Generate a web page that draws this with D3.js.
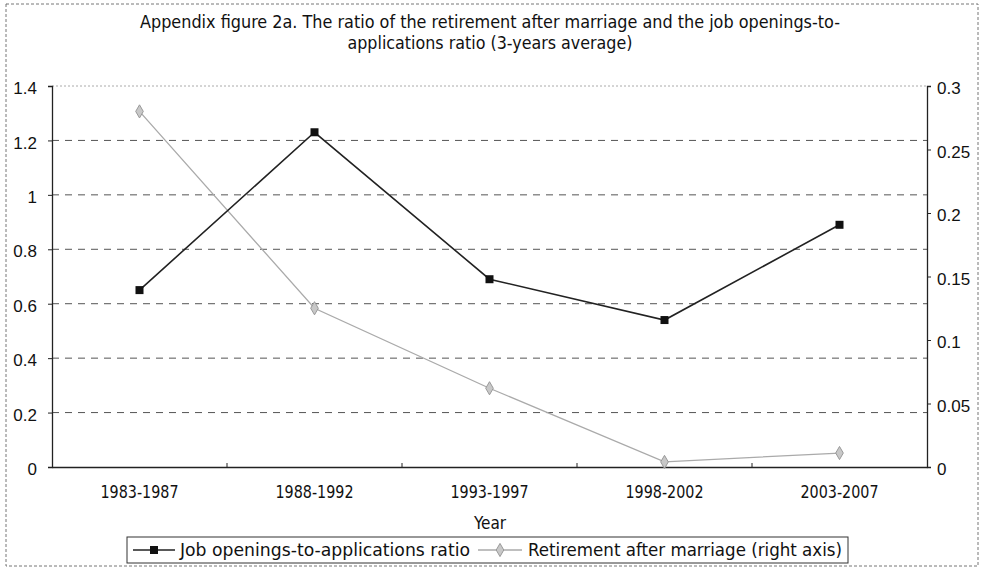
<!DOCTYPE html>
<html><head><meta charset="utf-8">
<script src="https://cdn.jsdelivr.net/npm/d3@7"></script>
<style>
body{margin:0;background:#fff;}
svg{display:block;}
</style></head>
<body>
<svg id="c" width="982" height="571"></svg>
<script>
const categories = ["1983-1987","1988-1992","1993-1997","1998-2002","2003-2007"];
const jobRatio = [0.65, 1.23, 0.69, 0.54, 0.89];
const retirement = [0.28, 0.125, 0.062, 0.004, 0.011];
const leftTicks = [0, 0.2, 0.4, 0.6, 0.8, 1, 1.2, 1.4];
const rightTicks = [0, 0.05, 0.1, 0.15, 0.2, 0.25, 0.3];
const titleLines = ["Appendix figure 2a. The ratio of the retirement after marriage and the job openings-to-", "applications ratio (3-years average)"];
const seriesNames = ["Job openings-to-applications ratio", "Retirement after marriage (right axis)"];

const svg = d3.select("#c");
const narrow = "'DejaVu Sans Condensed', 'Liberation Sans Narrow', sans-serif";
const reg = "'Liberation Sans', Arial, sans-serif";

const L = 52, R = 927, T = 86, B = 467;
const x = d3.scaleBand().domain(categories).range([L, R]);
const yL = d3.scaleLinear().domain([0, 1.4]).range([B, T]);
const yR = d3.scaleLinear().domain([0, 0.3]).range([B, T]);

// outer border
svg.append("rect").attr("x", 6).attr("y", 4).attr("width", 972).attr("height", 562)
  .attr("fill", "none").attr("stroke", "#777").attr("stroke-width", 1).attr("stroke-dasharray", "3,2");

// title
const titleWidths = [700, 285];
svg.append("g").selectAll("text").data(titleLines).join("text")
  .attr("x", 490).attr("y", (d, i) => 28 + i * 21)
  .attr("text-anchor", "middle").attr("font-family", narrow).attr("font-size", 17)
  .attr("textLength", (d, i) => titleWidths[i]).attr("lengthAdjust", "spacingAndGlyphs")
  .attr("fill", "#111").text(d => d);

// gridlines
svg.append("g").selectAll("line").data(leftTicks.filter(d => d > 0)).join("line")
  .attr("x1", L).attr("x2", R).attr("y1", d => yL(d)).attr("y2", d => yL(d))
  .attr("stroke", d => d === 1.4 ? "#aaa" : "#555").attr("stroke-width", 1)
  .attr("stroke-dasharray", d => d === 1.4 ? "2,2" : "7,6");

// axes
const gl = svg.append("g").attr("transform", `translate(${L},0)`)
  .call(d3.axisLeft(yL).tickValues(leftTicks).tickSize(4).tickFormat(d3.format("~g")));
const gr = svg.append("g").attr("transform", `translate(${R},0)`)
  .call(d3.axisRight(yR).tickValues(rightTicks).tickSize(4).tickFormat(d3.format("~g")));
const gx = svg.append("g").attr("transform", `translate(0,${B})`)
  .call(d3.axisBottom(x).tickSize(0).tickPadding(19));
[gl, gr, gx].forEach(g => {
  g.select(".domain").attr("stroke", "#222").attr("stroke-width", 1.3);
  g.selectAll(".tick line").attr("stroke", "#222");
});
gl.selectAll("text").attr("font-family", reg).attr("font-size", 17).attr("fill", "#111").attr("dx", "-8").attr("dy", "0.45em");
gr.selectAll("text").attr("font-family", reg).attr("font-size", 17).attr("fill", "#111").attr("dx", "3").attr("dy", "0.45em");
gx.selectAll("text").attr("font-family", narrow).attr("font-size", 17.5).attr("fill", "#111")
  .attr("textLength", 78).attr("lengthAdjust", "spacingAndGlyphs");
// category boundary ticks
svg.append("g").selectAll("line").data(categories.slice(1)).join("line")
  .attr("x1", d => x(d)).attr("x2", d => x(d)).attr("y1", B).attr("y2", B - 4)
  .attr("stroke", "#222");

// axis title
svg.append("text").attr("x", 490).attr("y", 529).attr("text-anchor", "middle")
  .attr("font-family", narrow).attr("font-size", 17).attr("fill", "#111").text("Year");

const cx = d => x(d) + x.bandwidth() / 2;

// retirement series
const retData = categories.map((c, i) => [c, retirement[i]]);
svg.append("path").datum(retData)
  .attr("d", d3.line().x(d => cx(d[0])).y(d => yR(d[1])))
  .attr("fill", "none").attr("stroke", "#aaa").attr("stroke-width", 1.3);
svg.append("g").selectAll("path").data(retData).join("path")
  .attr("d", d3.symbol(d3.symbolDiamond, 50))
  .attr("transform", d => `translate(${cx(d[0])},${yR(d[1])})`)
  .attr("fill", "#c8c8c8").attr("stroke", "#999");

// job series
const jobData = categories.map((c, i) => [c, jobRatio[i]]);
svg.append("path").datum(jobData)
  .attr("d", d3.line().x(d => cx(d[0])).y(d => yL(d[1])))
  .attr("fill", "none").attr("stroke", "#222").attr("stroke-width", 1.6);
svg.append("g").selectAll("rect").data(jobData).join("rect")
  .attr("x", d => cx(d[0]) - 4).attr("y", d => yL(d[1]) - 4)
  .attr("width", 8).attr("height", 8).attr("fill", "#111");

// legend
const lg = svg.append("g");
lg.append("rect").attr("x", 127).attr("y", 537).attr("width", 721).attr("height", 26)
  .attr("fill", "#fff").attr("stroke", "#333").attr("stroke-width", 1);
lg.append("line").attr("x1", 133).attr("x2", 175).attr("y1", 550).attr("y2", 550)
  .attr("stroke", "#222").attr("stroke-width", 1.6);
lg.append("rect").attr("x", 150).attr("y", 546).attr("width", 8).attr("height", 8).attr("fill", "#111");
lg.append("text").attr("x", 180).attr("y", 556).attr("font-family", narrow).attr("font-size", 17)
  .attr("textLength", 290).attr("lengthAdjust", "spacingAndGlyphs")
  .attr("fill", "#111").text(seriesNames[0]);
lg.append("line").attr("x1", 478).attr("x2", 522).attr("y1", 550).attr("y2", 550)
  .attr("stroke", "#aaa").attr("stroke-width", 1.3);
lg.append("path").attr("d", d3.symbol(d3.symbolDiamond, 50)).attr("transform", "translate(500,550)")
  .attr("fill", "#c8c8c8").attr("stroke", "#999");
lg.append("text").attr("x", 528).attr("y", 556).attr("font-family", narrow).attr("font-size", 17)
  .attr("textLength", 314).attr("lengthAdjust", "spacingAndGlyphs")
  .attr("fill", "#111").text(seriesNames[1]);
</script>
</body></html>
